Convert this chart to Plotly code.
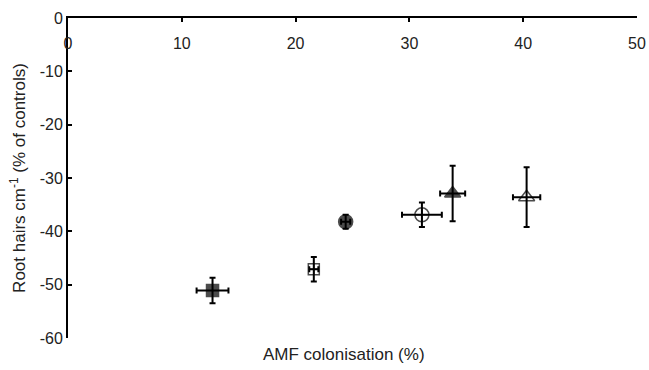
import plotly.graph_objects as go

colonisation = [12.7, 21.6, 24.4, 31.1, 33.8, 40.3]
root_hairs = [-51.1, -47.1, -38.2, -36.9, -32.9, -33.6]
colonisation_err = [1.4, 0.4, 0.4, 1.75, 1.1, 1.2]
root_hairs_err = [2.4, 2.3, 1.3, 2.3, 5.2, 5.6]
symbols = ["square", "square-cross-open", "circle", "circle-cross-open", "triangle-up", "triangle-up-open"]
sizes = [12, 11, 14, 14, 14, 14]
x_ticks = [0, 10, 20, 30, 40, 50]
x_labels = ["0", "10", "20", "30", "40", "50"]
y_ticks = [0, -10, -20, -30, -40, -50, -60]
y_labels = ["0", "-10", "-20", "-30", "-40", "-50", "-60"]

fig = go.Figure()
fig.add_trace(go.Scatter(
    x=colonisation, y=root_hairs, mode="markers",
    marker=dict(symbol=symbols, size=sizes, color="black",
                line=dict(color="black", width=1.5)),
    error_x=dict(type="data", array=colonisation_err, color="black", thickness=2, width=3),
    error_y=dict(type="data", array=root_hairs_err, color="black", thickness=2, width=3),
    showlegend=False, cliponaxis=False,
))
# empty trace so the label-only axis is drawn
fig.add_trace(go.Scatter(x=[], y=[], xaxis="x2", yaxis="y", showlegend=False))

font = dict(family="Liberation Sans, Arial, sans-serif", size=16, color="#222")
fig.update_layout(
    width=649, height=370,
    margin=dict(l=68, r=12, t=18, b=32, autoexpand=False),
    paper_bgcolor="white", plot_bgcolor="white",
    font=font, showlegend=False,
    xaxis=dict(range=[0, 50], side="top", anchor="y", tickvals=x_ticks,
               ticks="inside", ticklen=4, tickwidth=2, tickcolor="black",
               showticklabels=False, automargin=False,
               showline=True, linewidth=2, linecolor="black",
               showgrid=False, zeroline=False),
    xaxis2=dict(range=[0, 50], overlaying="x", matches="x", anchor="free", position=1,
                side="bottom", tickvals=x_ticks, ticktext=x_labels, ticks="",
                automargin=False,
                ticklabelstandoff=14, showline=False, showgrid=False, zeroline=False),
    yaxis=dict(range=[-60, 0], tickvals=y_ticks, ticktext=y_labels,
               ticks="inside", ticklen=4, tickwidth=2, tickcolor="black",
               showline=True, linewidth=2, linecolor="black", automargin=False,
               showgrid=False, zeroline=False,
               title=dict(text="Root hairs cm<sup>-1</sup> (% of controls)", font=dict(size=17), standoff=10)),
    annotations=[dict(text="AMF colonisation (%)", xref="paper", yref="paper",
                      x=0.485, y=-0.05, xanchor="center", yanchor="middle",
                      showarrow=False, font=dict(size=17))],
)
fig.write_html("out.html")
